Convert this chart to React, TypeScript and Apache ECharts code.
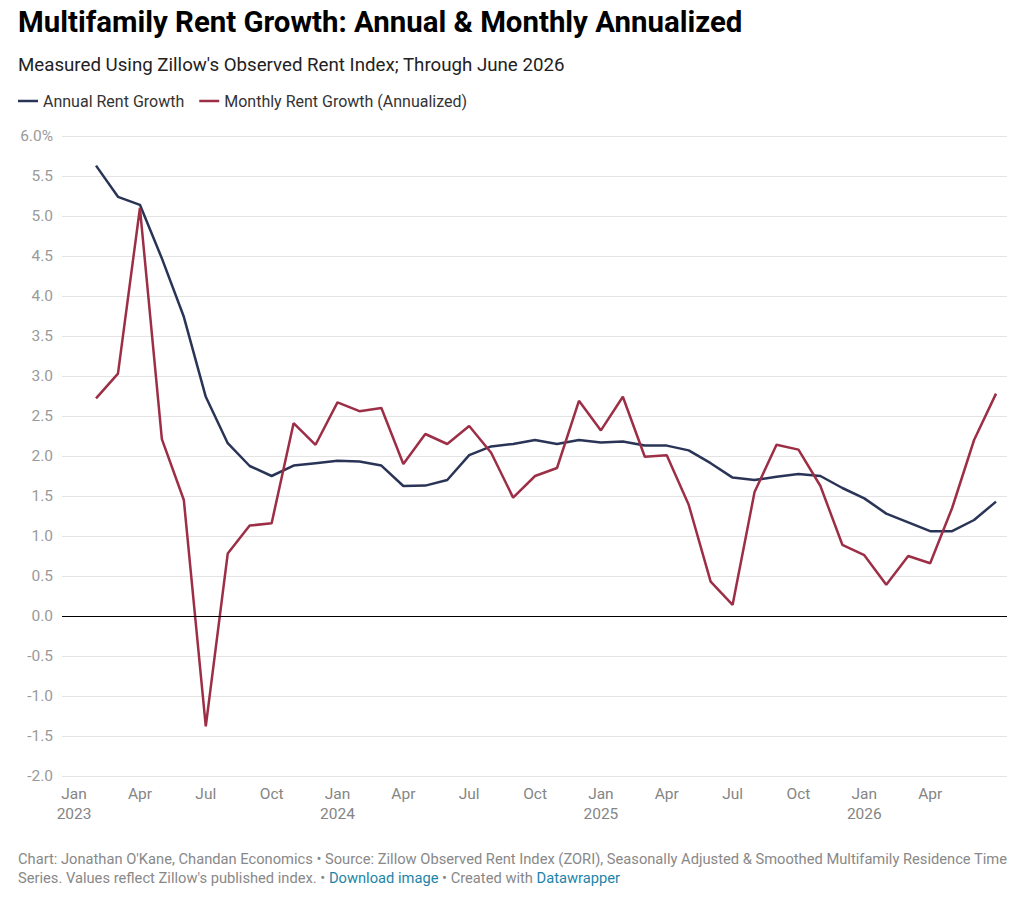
import React, { useEffect, useRef } from "react";
import * as echarts from "echarts";

// Month-end observations, Jan 2023 .. Jun 2026
const startYear = 2023;
const monthNames = ["Jan", "Feb", "Mar", "Apr", "May", "Jun", "Jul", "Aug", "Sep", "Oct", "Nov", "Dec"];

const annualGrowth = [
  5.63, 5.24, 5.14, 4.47, 3.74, 2.74, 2.16, 1.875, 1.75, 1.88, 1.91, 1.94,
  1.93, 1.88, 1.625, 1.63, 1.70, 2.01, 2.12, 2.15, 2.20, 2.15, 2.20, 2.17,
  2.18, 2.13, 2.13, 2.07, 1.91, 1.73, 1.70, 1.74, 1.775, 1.75, 1.60, 1.47,
  1.28, 1.17, 1.06, 1.06, 1.20, 1.43,
];

const monthlyAnnualized = [
  2.72, 3.03, 5.10, 2.21, 1.45, -1.38, 0.78, 1.13, 1.16, 2.41, 2.14, 2.67,
  2.56, 2.60, 1.90, 2.275, 2.15, 2.375, 2.04, 1.48, 1.75, 1.85, 2.69, 2.32,
  2.74, 1.99, 2.01, 1.39, 0.43, 0.14, 1.55, 2.14, 2.08, 1.625, 0.89, 0.76,
  0.39, 0.75, 0.66, 1.35, 2.20, 2.78,
];

const tickMonths = [0, 3, 6, 9, 12, 15, 18, 21, 24, 27, 30, 33, 36, 39];
const yTicks = { min: -2, max: 6, interval: 0.5 };

const seriesNames = ["Annual Rent Growth", "Monthly Rent Growth (Annualized)"];
const colors = ["#2a3457", "#9c2e46"];

// each monthly value is plotted at the end of its month (month index + 1)
const toPoints = (vals: number[]) => vals.map((v, i) => [i + 1, v]);

export default function App() {
  const ref = useRef<HTMLDivElement>(null);

  useEffect(() => {
    document.body.style.margin = "0";
    if (!ref.current) return;
    const chart = echarts.init(ref.current, undefined, { renderer: "svg" });
    const font = "Roboto, 'Noto Sans', sans-serif";
    const option: any = {
      animation: false,
      backgroundColor: "#ffffff",
      textStyle: { fontFamily: font },
      color: colors,
      grid: { left: 62, right: 13, top: 136, bottom: 122, containLabel: false },
      legend: {
        left: 13,
        top: 88,
        icon: "rect",
        itemWidth: 20,
        itemHeight: 2.5,
        itemGap: 15,
        textStyle: { fontSize: 16, color: "#333333", fontFamily: font },
        data: seriesNames,
      },
      xAxis: {
        type: "value",
        min: -0.55,
        max: 42.5,
        splitLine: { show: false },
        axisLine: { show: false },
        axisTick: { show: false },
        axisLabel: {
          customValues: tickMonths,
          margin: 8,
          fontSize: 15.5,
          lineHeight: 20,
          color: "#858585",
          fontFamily: font,
          formatter: (v: number) => {
            const m = Math.round(v);
            const name = monthNames[m % 12];
            return m % 12 === 0 ? `${name}\n${startYear + m / 12}` : name;
          },
        },
      },
      yAxis: {
        type: "value",
        min: yTicks.min,
        max: yTicks.max,
        interval: yTicks.interval,
        axisLine: { show: false },
        axisTick: { show: false },
        splitLine: { lineStyle: { color: "#e4e4e4", width: 1 } },
        axisLabel: {
          margin: 9,
          fontSize: 15.5,
          color: "#9a9a9a",
          fontFamily: font,
          formatter: (v: number) => (v === 6 ? "6.0%" : v.toFixed(1)),
        },
      },
      series: [
        {
          name: seriesNames[0],
          type: "line",
          data: toPoints(annualGrowth),
          showSymbol: false,
          symbol: "none",
          lineStyle: { width: 2.5, color: colors[0] },
          z: 3,
          markLine: {
            silent: true,
            symbol: "none",
            label: { show: false },
            lineStyle: { color: "#000000", width: 1, type: "solid" },
            data: [{ yAxis: 0 }],
          },
        },
        {
          name: seriesNames[1],
          type: "line",
          data: toPoints(monthlyAnnualized),
          showSymbol: false,
          symbol: "none",
          lineStyle: { width: 2.5, color: colors[1] },
          z: 4,
        },
      ],
      graphic: [
        {
          type: "text",
          left: 18,
          top: 7,
          style: {
            text: "Multifamily Rent Growth: Annual & Monthly Annualized",
            fontSize: 29.4,
            fontWeight: "bold",
            fill: "#000000",
            fontFamily: font,
          },
        },
        {
          type: "text",
          left: 18,
          top: 55,
          style: {
            text: "Measured Using Zillow's Observed Rent Index; Through June 2026",
            fontSize: 18.7,
            fill: "#222222",
            fontFamily: font,
          },
        },
        {
          type: "text",
          left: 18,
          top: 849,
          style: {
            text:
              "Chart: Jonathan O'Kane, Chandan Economics • Source: Zillow Observed Rent Index (ZORI), Seasonally Adjusted & Smoothed Multifamily Residence Time\n" +
              "Series. Values reflect Zillow's published index. • {link|Download image} • Created with {link|Datawrapper}",
            fontSize: 14.7,
            lineHeight: 19,
            fill: "#888888",
            fontFamily: font,
            rich: {
              link: { fill: "#1d84a8", fontSize: 14.7, fontFamily: font, lineHeight: 19 },
            },
          },
        },
      ],
    };
    chart.setOption(option);
    return () => chart.dispose();
  }, []);

  return <div ref={ref} style={{ width: 1020, height: 898 }} />;
}
